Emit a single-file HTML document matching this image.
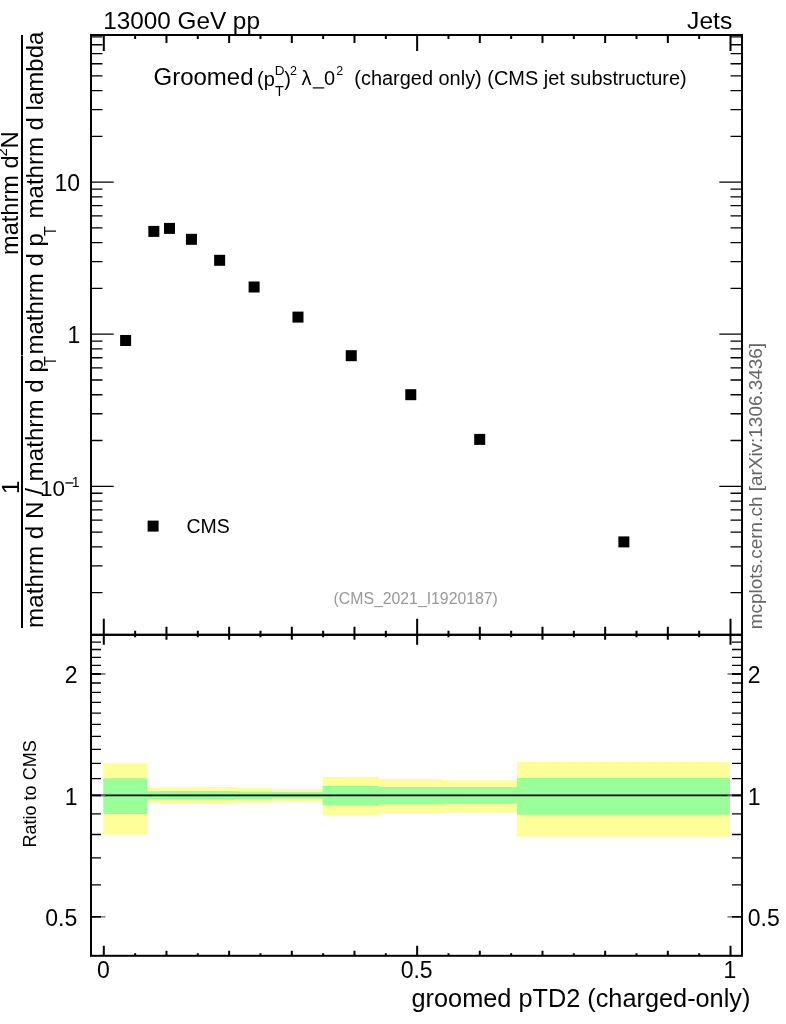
<!DOCTYPE html>
<html><head><meta charset="utf-8"><style>html,body{margin:0;padding:0;background:#fff;}svg{display:block;will-change:transform;font-family:"Liberation Sans",sans-serif;}</style></head>
<body><svg width="786" height="1024" viewBox="0 0 786 1024" font-family="Liberation Sans, sans-serif"><path d="M103.30 763.2L147.17 763.2L147.17 788L159.70 788L159.70 787.2L178.50 787.2L178.50 787.2L203.57 787.2L203.57 787.1L234.91 787.1L234.91 788L272.51 788L272.51 789L322.64 789L322.64 777L379.05 777L379.05 779L441.72 779L441.72 780.2L516.92 780.2L516.92 762.1L730.00 762.1L730.00 836.8L516.92 836.8L516.92 812.6L441.72 812.6L441.72 813.2L379.05 813.2L379.05 815.5L322.64 815.5L322.64 801.7L272.51 801.7L272.51 802.8L234.91 802.8L234.91 804L203.57 804L203.57 803.8L178.50 803.8L178.50 803.8L159.70 803.8L159.70 802.6L147.17 802.6L147.17 834.7L103.30 834.7Z" fill="#ffff99"/>
<path d="M103.30 778.3L147.17 778.3L147.17 791.3L159.70 791.3L159.70 791L178.50 791L178.50 791L203.57 791L203.57 790.9L234.91 790.9L234.91 791.5L272.51 791.5L272.51 791.9L322.64 791.9L322.64 786L379.05 786L379.05 787.1L441.72 787.1L441.72 787.1L516.92 787.1L516.92 778.1L730.00 778.1L730.00 814.8L516.92 814.8L516.92 803.8L441.72 803.8L441.72 804.2L379.05 804.2L379.05 805.5L322.64 805.5L322.64 798.5L272.51 798.5L272.51 798.9L234.91 798.9L234.91 799.8L203.57 799.8L203.57 799.8L178.50 799.8L178.50 799.8L159.70 799.8L159.70 799.5L147.17 799.5L147.17 813.9L103.30 813.9Z" fill="#99ff99"/>
<line x1="91" y1="795.4" x2="742" y2="795.4" stroke="#000" stroke-width="1.6"/>
<rect x="120.13" y="335.00" width="11" height="11" fill="#000"/>
<rect x="148.34" y="225.90" width="11" height="11" fill="#000"/>
<rect x="164.00" y="222.90" width="11" height="11" fill="#000"/>
<rect x="185.94" y="233.80" width="11" height="11" fill="#000"/>
<rect x="214.14" y="254.80" width="11" height="11" fill="#000"/>
<rect x="248.61" y="281.50" width="11" height="11" fill="#000"/>
<rect x="292.48" y="311.60" width="11" height="11" fill="#000"/>
<rect x="345.75" y="350.20" width="11" height="11" fill="#000"/>
<rect x="405.28" y="389.20" width="11" height="11" fill="#000"/>
<rect x="474.22" y="433.90" width="11" height="11" fill="#000"/>
<rect x="618.36" y="536.40" width="11" height="11" fill="#000"/>
<rect x="147.6" y="520.6" width="11" height="11" fill="#000"/>
<path d="M103.80 35.0V51.0 M103.80 634.8V618.8 M103.80 634.8V644.8 M103.80 955.8V945.8 M135.13 35.0V39.0 M135.13 634.8V630.8 M135.13 634.8V637.3 M135.13 955.8V953.3 M166.47 35.0V43.0 M166.47 634.8V626.8 M166.47 634.8V639.8 M166.47 955.8V950.8 M197.81 35.0V39.0 M197.81 634.8V630.8 M197.81 634.8V637.3 M197.81 955.8V953.3 M229.14 35.0V43.0 M229.14 634.8V626.8 M229.14 634.8V639.8 M229.14 955.8V950.8 M260.48 35.0V39.0 M260.48 634.8V630.8 M260.48 634.8V637.3 M260.48 955.8V953.3 M291.81 35.0V43.0 M291.81 634.8V626.8 M291.81 634.8V639.8 M291.81 955.8V950.8 M323.15 35.0V39.0 M323.15 634.8V630.8 M323.15 634.8V637.3 M323.15 955.8V953.3 M354.48 35.0V43.0 M354.48 634.8V626.8 M354.48 634.8V639.8 M354.48 955.8V950.8 M385.82 35.0V39.0 M385.82 634.8V630.8 M385.82 634.8V637.3 M385.82 955.8V953.3 M417.15 35.0V51.0 M417.15 634.8V618.8 M417.15 634.8V644.8 M417.15 955.8V945.8 M448.49 35.0V39.0 M448.49 634.8V630.8 M448.49 634.8V637.3 M448.49 955.8V953.3 M479.82 35.0V43.0 M479.82 634.8V626.8 M479.82 634.8V639.8 M479.82 955.8V950.8 M511.16 35.0V39.0 M511.16 634.8V630.8 M511.16 634.8V637.3 M511.16 955.8V953.3 M542.49 35.0V43.0 M542.49 634.8V626.8 M542.49 634.8V639.8 M542.49 955.8V950.8 M573.83 35.0V39.0 M573.83 634.8V630.8 M573.83 634.8V637.3 M573.83 955.8V953.3 M605.16 35.0V43.0 M605.16 634.8V626.8 M605.16 634.8V639.8 M605.16 955.8V950.8 M636.50 35.0V39.0 M636.50 634.8V630.8 M636.50 634.8V637.3 M636.50 955.8V953.3 M667.83 35.0V43.0 M667.83 634.8V626.8 M667.83 634.8V639.8 M667.83 955.8V950.8 M699.17 35.0V39.0 M699.17 634.8V630.8 M699.17 634.8V637.3 M699.17 955.8V953.3 M730.50 35.0V51.0 M730.50 634.8V618.8 M730.50 634.8V644.8 M730.50 955.8V945.8" stroke="#000" stroke-width="2" fill="none"/>
<path d="M91 592.61H102.5 M742 592.61H730.5 M91 565.83H102.5 M742 565.83H730.5 M91 546.83H102.5 M742 546.83H730.5 M91 532.09H102.5 M742 532.09H730.5 M91 520.04H102.5 M742 520.04H730.5 M91 509.86H102.5 M742 509.86H730.5 M91 501.04H102.5 M742 501.04H730.5 M91 493.26H102.5 M742 493.26H730.5 M91 486.30H113.7 M742 486.30H719.3 M91 440.51H102.5 M742 440.51H730.5 M91 413.73H102.5 M742 413.73H730.5 M91 394.73H102.5 M742 394.73H730.5 M91 379.99H102.5 M742 379.99H730.5 M91 367.94H102.5 M742 367.94H730.5 M91 357.76H102.5 M742 357.76H730.5 M91 348.94H102.5 M742 348.94H730.5 M91 341.16H102.5 M742 341.16H730.5 M91 334.20H113.7 M742 334.20H719.3 M91 288.41H102.5 M742 288.41H730.5 M91 261.63H102.5 M742 261.63H730.5 M91 242.63H102.5 M742 242.63H730.5 M91 227.89H102.5 M742 227.89H730.5 M91 215.84H102.5 M742 215.84H730.5 M91 205.66H102.5 M742 205.66H730.5 M91 196.84H102.5 M742 196.84H730.5 M91 189.06H102.5 M742 189.06H730.5 M91 182.10H113.7 M742 182.10H719.3 M91 136.31H102.5 M742 136.31H730.5 M91 109.53H102.5 M742 109.53H730.5 M91 90.53H102.5 M742 90.53H730.5 M91 75.79H102.5 M742 75.79H730.5 M91 63.74H102.5 M742 63.74H730.5 M91 53.56H102.5 M742 53.56H730.5 M91 44.74H102.5 M742 44.74H730.5 M91 36.96H102.5 M742 36.96H730.5 M91 884.87H101 M742 884.87H732 M91 857.87H101 M742 857.87H732 M91 834.48H101 M742 834.48H732 M91 813.85H101 M742 813.85H732 M91 778.71H101 M742 778.71H732 M91 763.47H101 M742 763.47H732 M91 749.45H101 M742 749.45H732 M91 736.47H101 M742 736.47H732 M91 724.38H101 M742 724.38H732 M91 713.08H101 M742 713.08H732 M91 702.46H101 M742 702.46H732 M91 692.45H101 M742 692.45H732 M91 682.98H101 M742 682.98H732 M91 665.45H101 M742 665.45H732 M91 657.30H101 M742 657.30H732 M91 649.52H101 M742 649.52H732 M91 642.06H101 M742 642.06H732" stroke="#000" stroke-width="1.3" fill="none"/>
<path d="M91 916.81H101 M742 916.81H732 M91 795.40H101 M742 795.40H732 M91 673.99H101 M742 673.99H732" stroke="#000" stroke-width="1.8" fill="none"/>
<path d="M101 916.81H105.5 M732 916.81H727.5 M101 795.40H105.5 M732 795.40H727.5 M101 673.99H105.5 M732 673.99H727.5" stroke="#666" stroke-width="1.3" fill="none"/>
<rect x="91" y="35.0" width="651" height="599.8" fill="none" stroke="#000" stroke-width="2"/>
<rect x="91" y="634.8" width="651" height="321.0" fill="none" stroke="#000" stroke-width="2"/>
<text x="103.2" y="28.7" font-size="24.3" text-anchor="start" fill="#000" >13000 GeV pp</text>
<text x="732.2" y="29.2" font-size="24.6" text-anchor="end" fill="#000" >Jets</text>
<text x="80" y="191" font-size="23" text-anchor="end" fill="#000" >10</text>
<text x="80.2" y="343" font-size="23" text-anchor="end" fill="#000" >1</text>
<text x="65.1" y="496.2" font-size="22.5" text-anchor="end" fill="#000" >10</text>
<rect x="65.4" y="482.3" width="7.9" height="1.3" fill="#000"/>
<text x="79.6" y="486.7" font-size="14" text-anchor="end" fill="#000" >1</text>
<text x="103.3" y="978.3" font-size="23" text-anchor="middle" fill="#000" >0</text>
<text x="416.65000000000003" y="978.3" font-size="23" text-anchor="middle" fill="#000" >0.5</text>
<text x="730.0" y="978.3" font-size="23" text-anchor="middle" fill="#000" >1</text>
<text x="77.5" y="682.8" font-size="23" text-anchor="end" fill="#000" >2</text>
<text x="77.5" y="804.7" font-size="23" text-anchor="end" fill="#000" >1</text>
<text x="77.3" y="925.5" font-size="23" text-anchor="end" fill="#000" >0.5</text>
<text x="747.8" y="682.8" font-size="23" text-anchor="start" fill="#000" >2</text>
<text x="747.8" y="804.7" font-size="23" text-anchor="start" fill="#000" >1</text>
<text x="747.8" y="925.5" font-size="23" text-anchor="start" fill="#000" >0.5</text>
<text x="750.4" y="1007.4" font-size="25.3" text-anchor="end" fill="#000" >groomed pTD2 (charged-only)</text>
<text x="186.5" y="532.7" font-size="19.5" text-anchor="start" fill="#000" >CMS</text>
<text x="333.6" y="604" font-size="15.8" text-anchor="start" fill="#999999" >(CMS_2021_I1920187)</text>
<text x="153.5" y="85.2" font-size="24" text-anchor="start" fill="#000" >Groomed</text>
<text x="257.1" y="85.6" font-size="20" text-anchor="start" fill="#000" >(p</text>
<text x="274.8" y="74.8" font-size="13.5" text-anchor="start" fill="#000" >D</text>
<text x="274.9" y="95.6" font-size="14.5" text-anchor="start" fill="#000" >T</text>
<text x="284.2" y="85.6" font-size="20" text-anchor="start" fill="#000" >)</text>
<text x="289.9" y="74.5" font-size="12.5" text-anchor="start" fill="#000" >2</text>
<text x="301.5" y="84.7" font-size="20" text-anchor="start" fill="#000" >λ</text>
<rect x="312.7" y="87.3" width="11.6" height="1.2" fill="#000"/>
<text x="323.9" y="85.2" font-size="20" text-anchor="start" fill="#000" >0</text>
<text x="336.2" y="74.5" font-size="12.5" text-anchor="start" fill="#000" >2</text>
<text x="354.3" y="85.2" font-size="19.95" text-anchor="start" fill="#000" >(charged only) (CMS jet substructure)</text>
<text transform="translate(761.8,629.2) rotate(-90)" font-size="18.95" fill="#666666">mcplots.cern.ch [arXiv:1306.3436]</text>
<text transform="translate(36.4,847.4) rotate(-90)" font-size="18">Ratio to CMS</text>
<line x1="22" y1="35" x2="22" y2="355" stroke="#000" stroke-width="2"/>
<line x1="22" y1="355.4" x2="22" y2="628" stroke="#000" stroke-width="2"/>
<text transform="translate(18.6,494) rotate(-90)" font-size="24" fill="#000">1</text>
<text transform="translate(43.3,627.9) rotate(-90)" font-size="24.2" fill="#000">mathrm d N / mathrm d p</text>
<text transform="translate(55.9,366) rotate(-90)" font-size="16" fill="#000">T</text>
<text transform="translate(43.3,354.6) rotate(-90)" font-size="24" fill="#000">mathrm d p</text>
<text transform="translate(55.9,236) rotate(-90)" font-size="16" fill="#000">T</text>
<text transform="translate(43.3,218.4) rotate(-90)" font-size="24" fill="#000">mathrm d lambda</text>
<text transform="translate(18,255) rotate(-90)" font-size="23.6" fill="#000">mathrm d</text>
<text transform="translate(7,156.5) rotate(-90)" font-size="15" fill="#000">2</text>
<text transform="translate(18,148.5) rotate(-90)" font-size="24" fill="#000">N</text></svg></body></html>
